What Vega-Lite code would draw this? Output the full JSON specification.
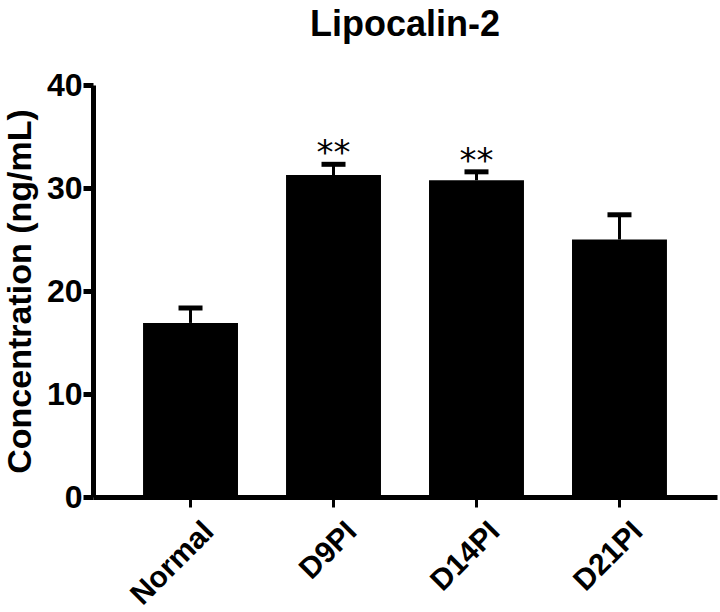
{
  "$schema": "https://vega.github.io/schema/vega-lite/v6.json",
  "autosize": "none",
  "padding": {"left": 93, "top": 85, "right": 3, "bottom": 115},
  "width": 624,
  "height": 412,
  "background": "white",
  "config": {
    "view": {"stroke": null},
    "font": "Liberation Sans"
  },
  "title": {
    "text": "Lipocalin-2",
    "fontSize": 36,
    "fontWeight": "bold",
    "font": "Liberation Sans",
    "color": "black",
    "anchor": "middle",
    "frame": "group",
    "offset": 25
  },
  "data": {
    "values": [
      {"group": "Normal", "mean": 16.9, "upper": 18.35, "sig": ""},
      {"group": "D9PI", "mean": 31.26, "upper": 32.3, "sig": "**"},
      {"group": "D14PI", "mean": 30.75, "upper": 31.57, "sig": "**"},
      {"group": "D21PI", "mean": 25.0, "upper": 27.4, "sig": ""}
    ]
  },
  "encoding": {
    "x": {
      "field": "group",
      "type": "nominal",
      "sort": ["Normal", "D9PI", "D14PI", "D21PI"],
      "scale": {"paddingInner": 0.336, "paddingOuter": 0.35},
      "axis": {
        "title": null,
        "domainColor": "black",
        "domainWidth": 5,
        "tickColor": "black",
        "tickWidth": 3,
        "tickSize": 10,
        "labelAngle": -45,
        "labelAlign": "right",
        "labelBaseline": "top",
        "labelFontSize": 30,
        "labelFontWeight": "bold",
        "labelColor": "black",
        "labelPadding": 9,
        "labelOffset": 8
      }
    }
  },
  "layer": [
    {
      "mark": {"type": "bar", "color": "black", "opacity": 1},
      "encoding": {
        "y": {
          "field": "mean",
          "type": "quantitative",
          "scale": {"domain": [0, 40], "nice": false},
          "axis": {
            "title": "Concentration (ng/mL)",
            "titleFontSize": 34,
            "titleFontWeight": "bold",
            "titleColor": "black",
            "titlePadding": 9,
            "values": [0, 10, 20, 30, 40],
            "grid": false,
            "domainColor": "black",
            "domainWidth": 5,
            "tickColor": "black",
            "tickWidth": 5,
            "tickSize": 10,
            "labelFontSize": 32,
            "labelFontWeight": "bold",
            "labelColor": "black",
            "labelPadding": 1
          }
        }
      }
    },
    {
      "mark": {"type": "rule", "color": "black", "strokeWidth": 3, "opacity": 1},
      "encoding": {
        "y": {"field": "mean", "type": "quantitative"},
        "y2": {"field": "upper"}
      }
    },
    {
      "mark": {"type": "tick", "color": "black", "thickness": 5, "size": 24, "orient": "horizontal", "opacity": 1},
      "encoding": {
        "y": {"field": "upper", "type": "quantitative"}
      }
    },
    {
      "mark": {"type": "text", "color": "black", "fontSize": 34, "font": "DejaVu Sans", "baseline": "alphabetic", "dy": 0},
      "encoding": {
        "y": {"field": "upper", "type": "quantitative"},
        "text": {"field": "sig"}
      }
    }
  ]
}
